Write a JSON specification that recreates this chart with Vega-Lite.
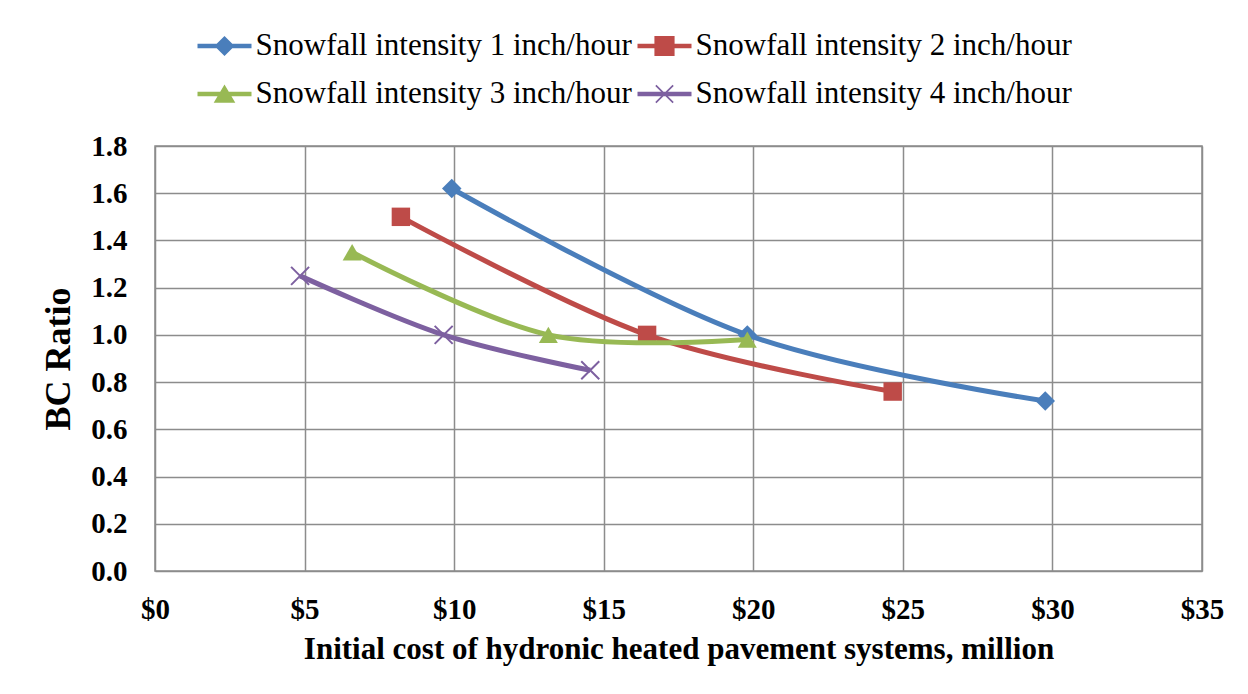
{
  "$schema": "https://vega.github.io/schema/vega-lite/v6.json",
  "autosize": {"type": "none"},
  "width": 1047,
  "height": 425,
  "padding": {"left": 155, "top": 146, "right": 46, "bottom": 123},
  "background": "white",
  "config": {
    "view": {"stroke": "#8c8c8c", "strokeWidth": 1.5},
    "font": "Liberation Serif"
  },
  "data": {
    "values": [
      {"series": "Snowfall intensity 1 inch/hour", "cost": 9.92, "bc": 1.62},
      {"series": "Snowfall intensity 1 inch/hour", "cost": 19.8, "bc": 1.0},
      {"series": "Snowfall intensity 1 inch/hour", "cost": 29.76, "bc": 0.72},
      {"series": "Snowfall intensity 2 inch/hour", "cost": 8.22, "bc": 1.5},
      {"series": "Snowfall intensity 2 inch/hour", "cost": 16.45, "bc": 1.0},
      {"series": "Snowfall intensity 2 inch/hour", "cost": 24.66, "bc": 0.76},
      {"series": "Snowfall intensity 3 inch/hour", "cost": 6.59, "bc": 1.35},
      {"series": "Snowfall intensity 3 inch/hour", "cost": 13.15, "bc": 1.0},
      {"series": "Snowfall intensity 3 inch/hour", "cost": 19.8, "bc": 0.98},
      {"series": "Snowfall intensity 4 inch/hour", "cost": 4.85, "bc": 1.25},
      {"series": "Snowfall intensity 4 inch/hour", "cost": 9.65, "bc": 1.0},
      {"series": "Snowfall intensity 4 inch/hour", "cost": 14.55, "bc": 0.85}
    ]
  },
  "encoding": {
    "x": {
      "field": "cost", "type": "quantitative",
      "scale": {"domain": [0, 35], "nice": false, "zero": true},
      "axis": {
        "title": "Initial cost of hydronic heated pavement systems, million",
        "values": [0, 5, 10, 15, 20, 25, 30, 35],
        "labelExpr": "'$' + datum.value",
        "labelFlush": false,
        "grid": true, "gridColor": "#8c8c8c", "gridWidth": 1.5,
        "ticks": false, "domain": false,
        "labelFont": "Liberation Serif", "labelFontWeight": "bold", "labelFontSize": 29,
        "labelColor": "#000000", "labelPadding": 24,
        "titleFont": "Liberation Serif", "titleFontWeight": "bold", "titleFontSize": 31,
        "titleColor": "#000000", "titlePadding": 10
      }
    },
    "y": {
      "field": "bc", "type": "quantitative",
      "scale": {"domain": [0, 1.8], "nice": false, "zero": true},
      "axis": {
        "title": "BC Ratio",
        "values": [0, 0.2, 0.4, 0.6, 0.8, 1.0, 1.2, 1.4, 1.6, 1.8],
        "format": ".1f",
        "labelFlush": false,
        "grid": true, "gridColor": "#8c8c8c", "gridWidth": 1.5,
        "ticks": false, "domain": false,
        "labelFont": "Liberation Serif", "labelFontWeight": "bold", "labelFontSize": 29,
        "labelColor": "#000000", "labelPadding": 28,
        "titleFont": "Liberation Serif", "titleFontWeight": "bold", "titleFontSize": 36,
        "titleColor": "#000000", "titlePadding": 13
      }
    }
  },
  "layer": [
    {
      "transform": [{"filter": "datum.series === 'Snowfall intensity 1 inch/hour'"}],
      "mark": {
        "type": "line", "color": "#4A7EBB", "strokeWidth": 5, "interpolate": "cardinal",
        "point": {"shape": "diamond", "filled": true, "color": "#4A7EBB", "size": 380, "opacity": 1}
      }
    },
    {
      "transform": [{"filter": "datum.series === 'Snowfall intensity 2 inch/hour'"}],
      "mark": {
        "type": "line", "color": "#BE4B48", "strokeWidth": 5, "interpolate": "cardinal",
        "point": {"shape": "square", "filled": true, "color": "#BE4B48", "size": 340, "opacity": 1}
      }
    },
    {
      "transform": [{"filter": "datum.series === 'Snowfall intensity 3 inch/hour'"}],
      "mark": {
        "type": "line", "color": "#98B954", "strokeWidth": 5, "interpolate": "cardinal",
        "point": {"shape": "triangle-up", "filled": true, "color": "#98B954", "size": 360, "opacity": 1}
      }
    },
    {
      "transform": [{"filter": "datum.series === 'Snowfall intensity 4 inch/hour'"}],
      "mark": {
        "type": "line", "color": "#7D60A0", "strokeWidth": 5, "interpolate": "cardinal",
        "point": {"shape": "M-1,-1L1,1M-1,1L1,-1", "filled": false, "stroke": "#7D60A0", "strokeWidth": 2, "size": 324, "opacity": 1}
      }
    },
    {
      "transform": [{"filter": "false"}],
      "mark": {"type": "point", "filled": true, "opacity": 1, "size": 2304},
      "encoding": {
        "color": {
          "field": "series", "type": "nominal",
          "scale": {
            "domain": ["Snowfall intensity 1 inch/hour", "Snowfall intensity 2 inch/hour", "Snowfall intensity 3 inch/hour", "Snowfall intensity 4 inch/hour"],
            "range": ["#4A7EBB", "#BE4B48", "#98B954", "#7D60A0"]
          },
          "legend": {
            "title": null, "orient": "none", "legendX": 45.5, "legendY": -124,
            "columns": 2, "direction": "horizontal", "padding": 0,
            "symbolSize": 2304, "symbolStrokeWidth": 0, "symbolOpacity": 1,
            "labelFont": "Liberation Serif", "labelFontSize": 31, "labelColor": "#000000",
            "labelOffset": 7, "columnPadding": 5, "rowPadding": 9, "labelLimit": 0
          }
        },
        "shape": {
          "field": "series", "type": "nominal",
          "scale": {
            "domain": ["Snowfall intensity 1 inch/hour", "Snowfall intensity 2 inch/hour", "Snowfall intensity 3 inch/hour", "Snowfall intensity 4 inch/hour"],
            "range": [
              "M-1.125,-0.09H1.125V0.09H-1.125Z M0,-0.42L0.42,0L0,0.42L-0.42,0Z",
              "M-1.125,-0.09H1.125V0.09H-1.125Z M-0.42,-0.42H0.42V0.42H-0.42Z",
              "M-1.125,-0.09H1.125V0.09H-1.125Z M0,-0.4L0.45,0.36H-0.45Z",
              "M-1.125,-0.09H1.125V0.09H-1.125Z M-0.335,-0.385L0.385,0.335L0.335,0.385L-0.385,-0.335Z M-0.335,0.385L-0.385,0.335L0.335,-0.385L0.385,-0.335Z"
            ]
          },
          "legend": {
            "title": null, "orient": "none", "legendX": 45.5, "legendY": -124,
            "columns": 2, "direction": "horizontal", "padding": 0,
            "symbolSize": 2304, "symbolStrokeWidth": 0, "symbolOpacity": 1,
            "labelFont": "Liberation Serif", "labelFontSize": 31, "labelColor": "#000000",
            "labelOffset": 7, "columnPadding": 5, "rowPadding": 9, "labelLimit": 0
          }
        }
      }
    }
  ]
}
